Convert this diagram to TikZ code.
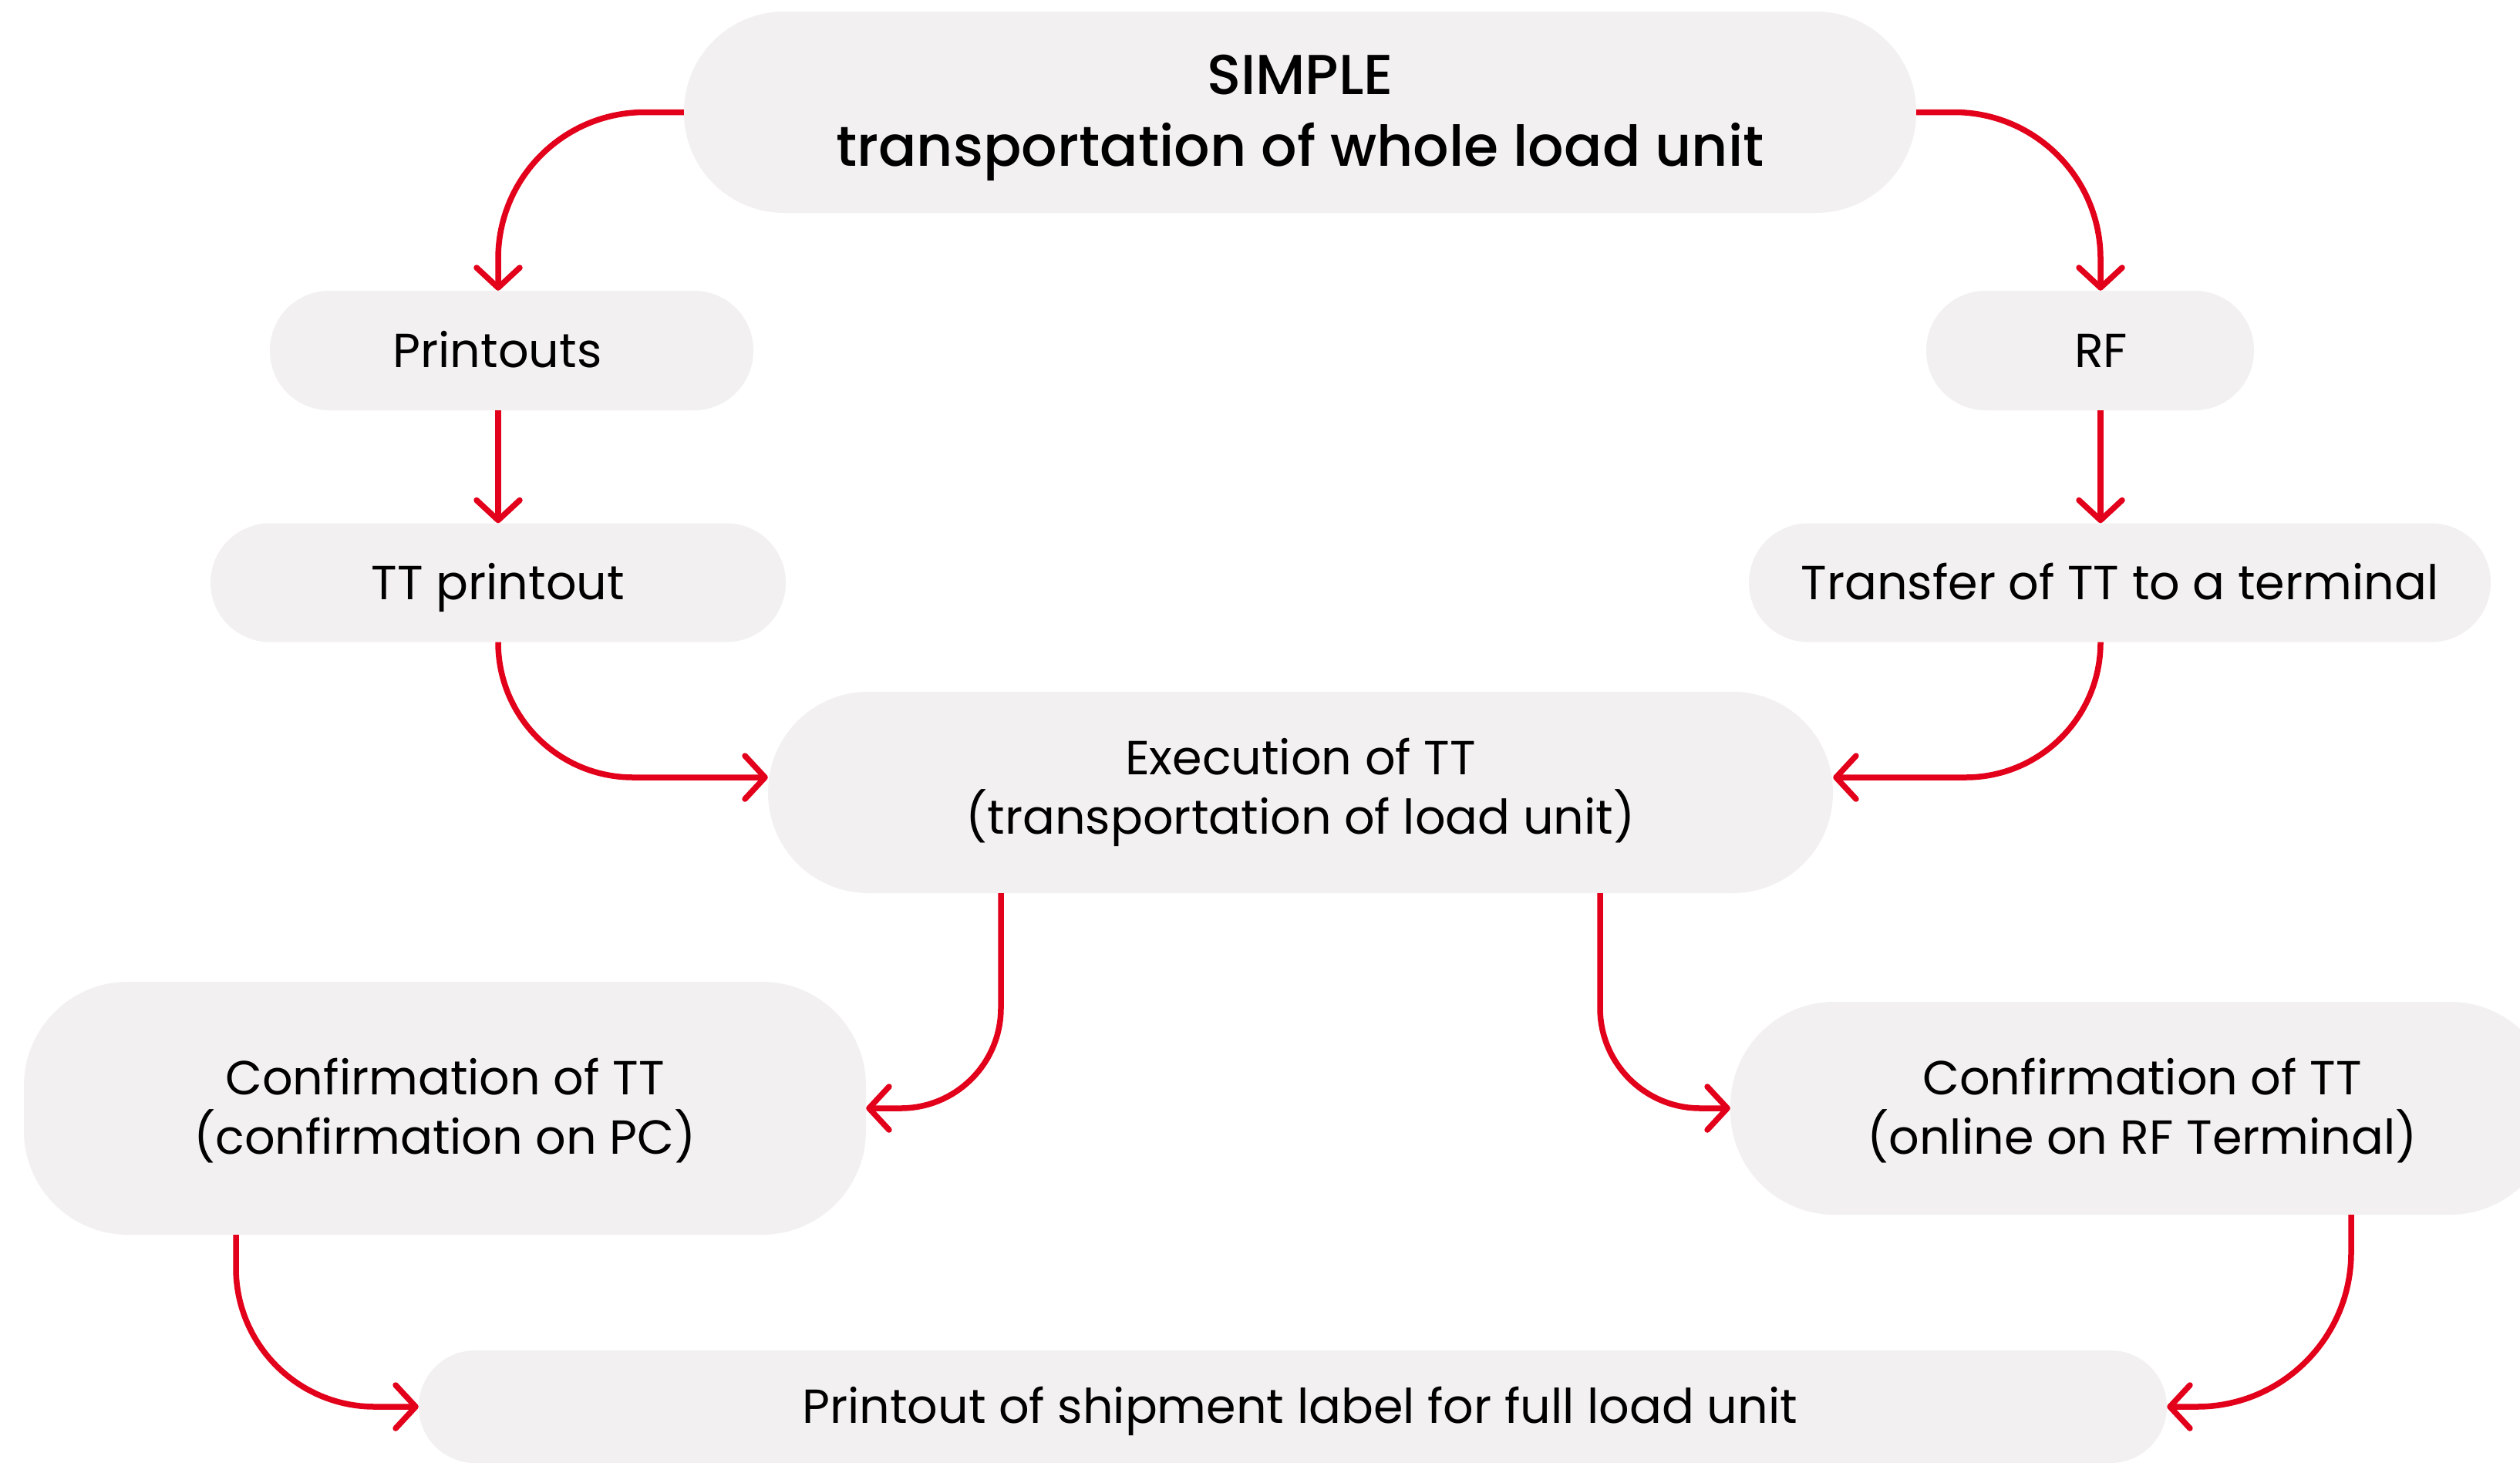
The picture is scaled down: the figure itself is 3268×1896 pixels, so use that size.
\documentclass[tikz,border=0pt]{standalone}
\usepackage{fontspec}
\setmainfont{Poppins}
\newfontfamily\titlefont{Poppins Medium}
\usetikzlibrary{arrows.meta,calc}
\definecolor{boxgrey}{RGB}{242,240,241}
\definecolor{flowred}{RGB}{226,0,26}
\begin{document}
\begin{tikzpicture}[x=1pt,y=-1pt,
  pill/.style={rectangle,fill=boxgrey,inner sep=0pt,align=center,
    font=\fontsize{62}{77}\selectfont},
  oneline/.style={text height=50pt,text depth=7pt},
  lowered/.style={text depth=5pt},
  flow/.style={draw=flowred,line width=7.5pt,
    -{Straight Barb[length=26pt,width=56pt,round]}}]
\useasboundingbox (0,0) rectangle (3268,1896);
\clip (0,0) rectangle (3268,1896);
% helper coordinates for connector columns and rows
\coordinate (colL) at (646,0);
\coordinate (colR) at (2724,0);
\coordinate (colE1) at (1298,0);
\coordinate (colE2) at (2075,0);
\coordinate (colP) at (306,0);
\coordinate (colQ) at (3049,0);
\coordinate (rowE) at (0,1008);
% nodes
\node[pill,lowered,minimum width=1598pt,minimum height=261pt,rounded corners=130pt,
  font=\titlefont\fontsize{73}{93}\selectfont] (top) at (1686,145.5)
  {SIMPLE\\transportation of whole load unit};
\node[pill,oneline,minimum width=627pt,minimum height=155pt,rounded corners=77pt] (printouts) at (663.5,454.5) {Printouts\hspace{37pt}};
\node[pill,oneline,minimum width=425pt,minimum height=155pt,rounded corners=77pt] (rf) at (2710.5,454.5) {\hspace{28pt}RF};
\node[pill,oneline,minimum width=746pt,minimum height=154pt,rounded corners=77pt] (ttp) at (646,755.5) {TT printout};
\node[pill,oneline,minimum width=962pt,minimum height=154pt,rounded corners=77pt] (transfer) at (2749,755.5) {Transfer of TT to a terminal};
\node[pill,minimum width=1381pt,minimum height=261pt,rounded corners=130pt] (exec) at (1686.5,1027.5) {Execution of TT\\(transportation of load unit)};
\node[pill,lowered,minimum width=1092pt,minimum height=328pt,rounded corners=135pt] (confpc) at (577,1437) {Confirmation of TT\\(confirmation on PC)};
\node[pill,lowered,minimum width=1068pt,minimum height=276pt,rounded corners=135pt] (confrf) at (2778,1437) {Confirmation of TT\\(online on RF Terminal)};
\node[pill,oneline,minimum width=2267pt,minimum height=146pt,rounded corners=73pt] (bottom) at (1676.5,1824) {\hspace{18pt}Printout of shipment label for full load unit};
% connectors
\draw[flow,rounded corners=190pt] (top.west) -| (printouts.north -| colL);
\draw[flow,rounded corners=190pt] (top.east) -| (rf.north -| colR);
\draw[flow] (printouts.south -| colL) -- (ttp.north);
\draw[flow] (rf.south -| colR) -- (transfer.north -| colR);
\draw[flow,rounded corners=175pt] (ttp.south) |- (exec.west |- rowE);
\draw[flow,rounded corners=175pt] (transfer.south -| colR) |- (exec.east |- rowE);
\draw[flow,rounded corners=130pt] (exec.south -| colE1) |- (confpc.east);
\draw[flow,rounded corners=130pt] (exec.south -| colE2) |- (confrf.west);
\draw[flow,rounded corners=180pt] (confpc.south -| colP) |- (bottom.west);
\draw[flow,rounded corners=200pt] (confrf.south -| colQ) |- (bottom.east);
\end{tikzpicture}
\end{document}
